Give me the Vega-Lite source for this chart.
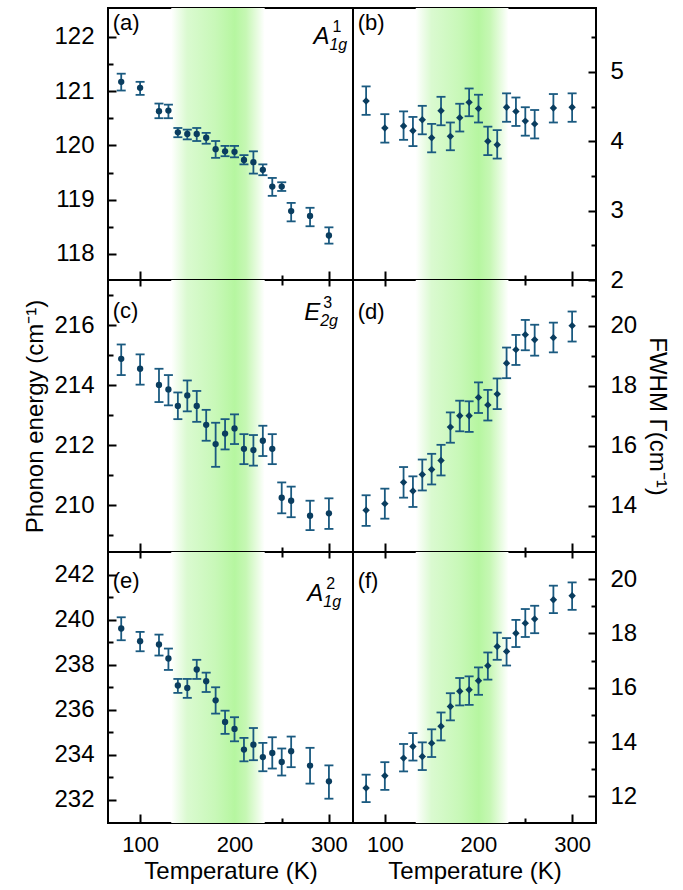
{
"$schema": "https://vega.github.io/schema/vega-lite/v6.json",
"padding": {"left": 22, "top": 7, "right": 10, "bottom": 5},
"background": "white",
"bounds": "flush",
"columns": 2,
"spacing": 0,
"config": {
 "view": {"stroke": "black", "strokeWidth": 2},
 "axis": {"domain": false, "grid": false, "tickColor": "black", "tickWidth": 2, "labelColor": "black", "labelFont": "Liberation Sans", "labelFontSize": 22, "titleFont": "Liberation Sans", "titleFontSize": 24, "titleFontWeight": "normal", "titleColor": "black", "labelOverlap": false, "labelFlush": false}
},
"datasets": {
 "band": [{"t0": 133, "t1": 232}],
 "a": [
  {"T":80,"v":121.17,"lo":121.01,"hi":121.32},{"T":100,"v":121.06,"lo":120.93,"hi":121.17},{"T":120,"v":120.63,"lo":120.50,"hi":120.77},{"T":130,"v":120.64,"lo":120.50,"hi":120.75},{"T":140,"v":120.24,"lo":120.15,"hi":120.32},{"T":150,"v":120.21,"lo":120.11,"hi":120.29},{"T":160,"v":120.21,"lo":120.08,"hi":120.32},{"T":170,"v":120.14,"lo":120.03,"hi":120.23},{"T":180,"v":119.93,"lo":119.77,"hi":120.08},{"T":190,"v":119.89,"lo":119.80,"hi":119.99},{"T":200,"v":119.88,"lo":119.78,"hi":119.99},{"T":210,"v":119.73,"lo":119.65,"hi":119.82},{"T":220,"v":119.69,"lo":119.48,"hi":119.89},{"T":230,"v":119.55,"lo":119.45,"hi":119.65},{"T":240,"v":119.24,"lo":119.07,"hi":119.40},{"T":250,"v":119.24,"lo":119.16,"hi":119.32},{"T":260,"v":118.79,"lo":118.60,"hi":118.94},{"T":280,"v":118.70,"lo":118.51,"hi":118.85},{"T":300,"v":118.34,"lo":118.19,"hi":118.49}],
 "b": [
  {"T":80,"v":4.58,"lo":4.38,"hi":4.79},{"T":100,"v":4.19,"lo":3.98,"hi":4.39},{"T":120,"v":4.22,"lo":4.02,"hi":4.43},{"T":130,"v":4.15,"lo":3.93,"hi":4.35},{"T":140,"v":4.31,"lo":4.10,"hi":4.51},{"T":150,"v":4.05,"lo":3.84,"hi":4.25},{"T":160,"v":4.44,"lo":4.23,"hi":4.64},{"T":170,"v":4.07,"lo":3.87,"hi":4.27},{"T":180,"v":4.34,"lo":4.14,"hi":4.54},{"T":190,"v":4.56,"lo":4.36,"hi":4.76},{"T":200,"v":4.47,"lo":4.27,"hi":4.67},{"T":210,"v":4.00,"lo":3.80,"hi":4.21},{"T":220,"v":3.95,"lo":3.75,"hi":4.16},{"T":230,"v":4.49,"lo":4.28,"hi":4.69},{"T":240,"v":4.43,"lo":4.22,"hi":4.63},{"T":250,"v":4.29,"lo":4.08,"hi":4.49},{"T":260,"v":4.25,"lo":4.04,"hi":4.45},{"T":280,"v":4.48,"lo":4.27,"hi":4.68},{"T":300,"v":4.49,"lo":4.28,"hi":4.69}],
 "c": [
  {"T":80,"v":214.88,"lo":214.34,"hi":215.36},{"T":100,"v":214.55,"lo":214.02,"hi":215.03},{"T":120,"v":214.01,"lo":213.44,"hi":214.55},{"T":130,"v":213.86,"lo":213.33,"hi":214.34},{"T":140,"v":213.31,"lo":212.87,"hi":213.76},{"T":150,"v":213.66,"lo":213.13,"hi":214.16},{"T":160,"v":213.31,"lo":212.78,"hi":213.81},{"T":170,"v":212.68,"lo":212.15,"hi":213.18},{"T":180,"v":212.04,"lo":211.28,"hi":212.75},{"T":190,"v":212.39,"lo":211.86,"hi":212.87},{"T":200,"v":212.56,"lo":212.04,"hi":213.03},{"T":210,"v":211.88,"lo":211.37,"hi":212.37},{"T":220,"v":211.84,"lo":211.32,"hi":212.34},{"T":230,"v":212.15,"lo":211.64,"hi":212.65},{"T":240,"v":211.88,"lo":211.37,"hi":212.37},{"T":250,"v":210.25,"lo":209.73,"hi":210.76},{"T":260,"v":210.15,"lo":209.60,"hi":210.62},{"T":280,"v":209.65,"lo":209.17,"hi":210.15},{"T":300,"v":209.73,"lo":209.21,"hi":210.23}],
 "d": [
  {"T":80,"v":13.85,"lo":13.33,"hi":14.35},{"T":100,"v":14.07,"lo":13.57,"hi":14.57},{"T":120,"v":14.78,"lo":14.27,"hi":15.29},{"T":130,"v":14.49,"lo":13.96,"hi":14.98},{"T":140,"v":15.04,"lo":14.51,"hi":15.54},{"T":150,"v":15.21,"lo":14.71,"hi":15.73},{"T":160,"v":15.51,"lo":15.01,"hi":16.03},{"T":170,"v":16.62,"lo":16.10,"hi":17.11},{"T":180,"v":17.00,"lo":16.48,"hi":17.50},{"T":190,"v":17.00,"lo":16.46,"hi":17.48},{"T":200,"v":17.61,"lo":17.09,"hi":18.11},{"T":210,"v":17.36,"lo":16.84,"hi":17.86},{"T":220,"v":17.72,"lo":17.22,"hi":18.24},{"T":230,"v":18.75,"lo":18.25,"hi":19.27},{"T":240,"v":19.20,"lo":18.69,"hi":19.69},{"T":250,"v":19.70,"lo":19.18,"hi":20.19},{"T":260,"v":19.53,"lo":19.00,"hi":20.03},{"T":280,"v":19.60,"lo":19.11,"hi":20.10},{"T":300,"v":20.00,"lo":19.47,"hi":20.47}],
 "e": [
  {"T":80,"v":239.60,"lo":239.08,"hi":240.10},{"T":100,"v":239.04,"lo":238.59,"hi":239.45},{"T":120,"v":238.89,"lo":238.40,"hi":239.33},{"T":130,"v":238.27,"lo":237.76,"hi":238.71},{"T":140,"v":237.07,"lo":236.74,"hi":237.36},{"T":150,"v":236.96,"lo":236.52,"hi":237.36},{"T":160,"v":237.78,"lo":237.36,"hi":238.21},{"T":170,"v":237.26,"lo":236.78,"hi":237.64},{"T":180,"v":236.41,"lo":235.82,"hi":236.99},{"T":190,"v":235.45,"lo":234.92,"hi":235.95},{"T":200,"v":235.14,"lo":234.59,"hi":235.66},{"T":210,"v":234.22,"lo":233.70,"hi":234.74},{"T":220,"v":234.44,"lo":233.75,"hi":235.18},{"T":230,"v":233.89,"lo":233.26,"hi":234.52},{"T":240,"v":234.07,"lo":233.38,"hi":234.77},{"T":250,"v":233.67,"lo":233.07,"hi":234.27},{"T":260,"v":234.15,"lo":233.44,"hi":234.80},{"T":280,"v":233.51,"lo":232.71,"hi":234.30},{"T":300,"v":232.81,"lo":232.04,"hi":233.52}],
 "f": [
  {"T":80,"v":12.31,"lo":11.79,"hi":12.80},{"T":100,"v":12.76,"lo":12.24,"hi":13.26},{"T":120,"v":13.41,"lo":12.92,"hi":13.93},{"T":130,"v":13.84,"lo":13.32,"hi":14.33},{"T":140,"v":13.47,"lo":12.97,"hi":13.99},{"T":150,"v":13.96,"lo":13.45,"hi":14.47},{"T":160,"v":14.58,"lo":14.06,"hi":15.09},{"T":170,"v":15.31,"lo":14.80,"hi":15.80},{"T":180,"v":15.87,"lo":15.35,"hi":16.36},{"T":190,"v":15.93,"lo":15.37,"hi":16.42},{"T":200,"v":16.26,"lo":15.74,"hi":16.75},{"T":210,"v":16.81,"lo":16.30,"hi":17.30},{"T":220,"v":17.52,"lo":17.03,"hi":18.03},{"T":230,"v":17.34,"lo":16.82,"hi":17.83},{"T":240,"v":18.01,"lo":17.50,"hi":18.50},{"T":250,"v":18.38,"lo":17.87,"hi":18.90},{"T":260,"v":18.53,"lo":18.01,"hi":19.02},{"T":280,"v":19.24,"lo":18.75,"hi":19.76},{"T":300,"v":19.39,"lo":18.87,"hi":19.88}]
},
"concat": [
 {
  "width": 245, "height": 272,
  "data": {"name": "a"},
  "resolve": {"axis": {"x": "independent", "y": "independent"}},
  "layer": [
   {"data": {"name": "band"}, "mark": {"type": "rect", "stroke": null, "fill": {"gradient": "linear", "x1": 0, "y1": 0, "x2": 1, "y2": 0, "stops": [{"offset": 0, "color": "#ffffff"}, {"offset": 0.17, "color": "#dafad0"}, {"offset": 0.47, "color": "#c8f8b8"}, {"offset": 0.68, "color": "#b6f6a0"}, {"offset": 0.8, "color": "#c6f7b4"}, {"offset": 1, "color": "#ffffff"}]}},
    "encoding": {"x": {"field": "t0", "type": "quantitative", "scale": {"domain": [66, 325.5], "nice": false, "zero": false}, "axis": null}, "x2": {"field": "t1"}}},
   {"mark": {"type": "rule", "color": "#1a5a80", "strokeWidth": 1.8},
    "encoding": {"x": {"field": "T", "type": "quantitative", "scale": {"domain": [66, 325.5], "nice": false, "zero": false}, "axis": {"orient": "bottom", "values": [100, 200, 300], "tickSize": -9, "labels": false, "title": null}},
     "y": {"field": "lo", "type": "quantitative", "scale": {"domain": [117.52, 122.53], "nice": false, "zero": false}, "axis": {"orient": "left", "values": [118, 119, 120, 121, 122], "tickSize": -8, "labelPadding": 22, "labelFontSize": 24, "title": null}}, "y2": {"field": "hi"}}},
   {"mark": {"type": "tick", "orient": "horizontal", "size": 9, "thickness": 1.8, "color": "#1a5a80", "opacity": 1},
    "encoding": {"x": {"field": "T", "type": "quantitative", "axis": {"orient": "bottom", "values": [150, 250], "tickSize": -5, "labels": false, "title": null}},
     "y": {"field": "lo", "type": "quantitative", "axis": {"orient": "left", "values": [118.5, 119.5, 120.5, 121.5], "tickSize": -5, "labels": false, "title": null}}}},
   {"mark": {"type": "tick", "orient": "horizontal", "size": 9, "thickness": 1.8, "color": "#1a5a80", "opacity": 1},
    "encoding": {"x": {"field": "T", "type": "quantitative", "axis": null}, "y": {"field": "hi", "type": "quantitative", "axis": null}}},
   {"mark": {"type": "point", "shape": "circle", "filled": true, "size": 40, "color": "#0a3d5f", "opacity": 1},
    "encoding": {"x": {"field": "T", "type": "quantitative", "axis": null}, "y": {"field": "v", "type": "quantitative", "axis": null}}},
   {"data": {"values": [{"T": 71, "v": 122.25, "s": "(a)"}]}, "mark": {"type": "text", "align": "left", "baseline": "middle", "font": "Liberation Sans", "fontSize": 22, "color": "black"},
    "encoding": {"x": {"field": "T", "type": "quantitative", "axis": null}, "y": {"field": "v", "type": "quantitative", "axis": null}, "text": {"field": "s"}}},
   {"data": {"values": [{"T": 300.5, "v": 121.87, "s": "A"}]}, "mark": {"type": "text", "align": "right", "baseline": "alphabetic", "font": "Liberation Sans", "fontSize": 24, "fontStyle": "italic", "color": "black"},
    "encoding": {"x": {"field": "T", "type": "quantitative", "axis": null}, "y": {"field": "v", "type": "quantitative", "axis": null}, "text": {"field": "s"}}},
   {"data": {"values": [{"T": 300.5, "v": 121.87, "s": "1"}]}, "mark": {"type": "text", "align": "left", "baseline": "alphabetic", "dx": 3, "dy": -12, "font": "Liberation Sans", "fontSize": 16, "color": "black"},
    "encoding": {"x": {"field": "T", "type": "quantitative", "axis": null}, "y": {"field": "v", "type": "quantitative", "axis": null}, "text": {"field": "s"}}},
   {"data": {"values": [{"T": 300.5, "v": 121.87, "s": "1g"}]}, "mark": {"type": "text", "align": "left", "baseline": "alphabetic", "dx": 0, "dy": 6, "font": "Liberation Sans", "fontSize": 16, "fontStyle": "italic", "color": "black"},
    "encoding": {"x": {"field": "T", "type": "quantitative", "axis": null}, "y": {"field": "v", "type": "quantitative", "axis": null}, "text": {"field": "s"}}}
  ]
 },
 {
  "width": 243, "height": 272,
  "data": {"name": "b"},
  "resolve": {"axis": {"x": "independent", "y": "independent"}},
  "layer": [
   {"data": {"name": "band"}, "mark": {"type": "rect", "stroke": null, "fill": {"gradient": "linear", "x1": 0, "y1": 0, "x2": 1, "y2": 0, "stops": [{"offset": 0, "color": "#ffffff"}, {"offset": 0.17, "color": "#dafad0"}, {"offset": 0.47, "color": "#c8f8b8"}, {"offset": 0.68, "color": "#b6f6a0"}, {"offset": 0.8, "color": "#c6f7b4"}, {"offset": 1, "color": "#ffffff"}]}},
    "encoding": {"x": {"field": "t0", "type": "quantitative", "scale": {"domain": [66, 325.5], "nice": false, "zero": false}, "axis": null}, "x2": {"field": "t1"}}},
   {"mark": {"type": "rule", "color": "#1a5a80", "strokeWidth": 1.8},
    "encoding": {"x": {"field": "T", "type": "quantitative", "scale": {"domain": [66, 325.5], "nice": false, "zero": false}, "axis": {"orient": "bottom", "values": [100, 200, 300], "tickSize": -9, "labels": false, "title": null}},
     "y": {"field": "lo", "type": "quantitative", "scale": {"domain": [2.0, 5.92], "nice": false, "zero": false}, "axis": {"orient": "right", "values": [2, 3, 4, 5], "tickSize": -8, "labelPadding": 22, "labelFontSize": 24, "title": null}}, "y2": {"field": "hi"}}},
   {"mark": {"type": "tick", "orient": "horizontal", "size": 9, "thickness": 1.8, "color": "#1a5a80", "opacity": 1},
    "encoding": {"x": {"field": "T", "type": "quantitative", "axis": {"orient": "bottom", "values": [150, 250], "tickSize": -5, "labels": false, "title": null}},
     "y": {"field": "lo", "type": "quantitative", "axis": {"orient": "right", "values": [2.5, 3.5, 4.5, 5.5], "tickSize": -5, "labels": false, "title": null}}}},
   {"mark": {"type": "tick", "orient": "horizontal", "size": 9, "thickness": 1.8, "color": "#1a5a80", "opacity": 1},
    "encoding": {"x": {"field": "T", "type": "quantitative", "axis": null}, "y": {"field": "hi", "type": "quantitative", "axis": null}}},
   {"mark": {"type": "point", "shape": "diamond", "filled": true, "size": 55, "color": "#0a3d5f", "opacity": 1},
    "encoding": {"x": {"field": "T", "type": "quantitative", "axis": null}, "y": {"field": "v", "type": "quantitative", "axis": null}}},
   {"data": {"values": [{"T": 71, "v": 5.70, "s": "(b)"}]}, "mark": {"type": "text", "align": "left", "baseline": "middle", "font": "Liberation Sans", "fontSize": 22, "color": "black"},
    "encoding": {"x": {"field": "T", "type": "quantitative", "axis": null}, "y": {"field": "v", "type": "quantitative", "axis": null}, "text": {"field": "s"}}}
  ]
 },
 {
  "width": 245, "height": 272,
  "data": {"name": "c"},
  "resolve": {"axis": {"x": "independent", "y": "independent"}},
  "layer": [
   {"data": {"name": "band"}, "mark": {"type": "rect", "stroke": null, "fill": {"gradient": "linear", "x1": 0, "y1": 0, "x2": 1, "y2": 0, "stops": [{"offset": 0, "color": "#ffffff"}, {"offset": 0.17, "color": "#dafad0"}, {"offset": 0.47, "color": "#c8f8b8"}, {"offset": 0.68, "color": "#b6f6a0"}, {"offset": 0.8, "color": "#c6f7b4"}, {"offset": 1, "color": "#ffffff"}]}},
    "encoding": {"x": {"field": "t0", "type": "quantitative", "scale": {"domain": [66, 325.5], "nice": false, "zero": false}, "axis": null}, "x2": {"field": "t1"}}},
   {"mark": {"type": "rule", "color": "#1a5a80", "strokeWidth": 1.8},
    "encoding": {"x": {"field": "T", "type": "quantitative", "scale": {"domain": [66, 325.5], "nice": false, "zero": false}, "axis": {"orient": "bottom", "values": [100, 200, 300], "tickSize": -9, "labels": false, "title": null}},
     "y": {"field": "lo", "type": "quantitative", "scale": {"domain": [208.44, 217.51], "nice": false, "zero": false}, "axis": {"orient": "left", "values": [210, 212, 214, 216], "tickSize": -8, "labelPadding": 22, "labelFontSize": 24, "title": "Phonon energy (cm⁻¹)", "titleFont": "Liberation Sans Narrow, Liberation Sans", "titleFontSize": 24, "titlePadding": 6}}, "y2": {"field": "hi"}}},
   {"mark": {"type": "tick", "orient": "horizontal", "size": 9, "thickness": 1.8, "color": "#1a5a80", "opacity": 1},
    "encoding": {"x": {"field": "T", "type": "quantitative", "axis": {"orient": "bottom", "values": [150, 250], "tickSize": -5, "labels": false, "title": null}},
     "y": {"field": "lo", "type": "quantitative", "axis": {"orient": "left", "values": [209, 211, 213, 215, 217], "tickSize": -5, "labels": false, "title": null}}}},
   {"mark": {"type": "tick", "orient": "horizontal", "size": 9, "thickness": 1.8, "color": "#1a5a80", "opacity": 1},
    "encoding": {"x": {"field": "T", "type": "quantitative", "axis": {"orient": "top", "values": [100, 200, 300], "tickSize": -6, "labels": false, "title": null}}, "y": {"field": "hi", "type": "quantitative", "axis": null}}},
   {"mark": {"type": "point", "shape": "circle", "filled": true, "size": 40, "color": "#0a3d5f", "opacity": 1},
    "encoding": {"x": {"field": "T", "type": "quantitative", "axis": {"orient": "top", "values": [150, 250], "tickSize": -5, "labels": false, "title": null}}, "y": {"field": "v", "type": "quantitative", "axis": null}}},
   {"data": {"values": [{"T": 71, "v": 216.49, "s": "(c)"}]}, "mark": {"type": "text", "align": "left", "baseline": "middle", "font": "Liberation Sans", "fontSize": 22, "color": "black"},
    "encoding": {"x": {"field": "T", "type": "quantitative", "axis": null}, "y": {"field": "v", "type": "quantitative", "axis": null}, "text": {"field": "s"}}},
   {"data": {"values": [{"T": 290.7, "v": 216.16, "s": "E"}]}, "mark": {"type": "text", "align": "right", "baseline": "alphabetic", "font": "Liberation Sans", "fontSize": 24, "fontStyle": "italic", "color": "black"},
    "encoding": {"x": {"field": "T", "type": "quantitative", "axis": null}, "y": {"field": "v", "type": "quantitative", "axis": null}, "text": {"field": "s"}}},
   {"data": {"values": [{"T": 290.7, "v": 216.16, "s": "3"}]}, "mark": {"type": "text", "align": "left", "baseline": "alphabetic", "dx": 3, "dy": -12, "font": "Liberation Sans", "fontSize": 16, "color": "black"},
    "encoding": {"x": {"field": "T", "type": "quantitative", "axis": null}, "y": {"field": "v", "type": "quantitative", "axis": null}, "text": {"field": "s"}}},
   {"data": {"values": [{"T": 290.7, "v": 216.16, "s": "2g"}]}, "mark": {"type": "text", "align": "left", "baseline": "alphabetic", "dx": 0, "dy": 6, "font": "Liberation Sans", "fontSize": 16, "fontStyle": "italic", "color": "black"},
    "encoding": {"x": {"field": "T", "type": "quantitative", "axis": null}, "y": {"field": "v", "type": "quantitative", "axis": null}, "text": {"field": "s"}}}
  ]
 },
 {
  "width": 243, "height": 272,
  "data": {"name": "d"},
  "resolve": {"axis": {"x": "independent", "y": "independent"}},
  "layer": [
   {"data": {"name": "band"}, "mark": {"type": "rect", "stroke": null, "fill": {"gradient": "linear", "x1": 0, "y1": 0, "x2": 1, "y2": 0, "stops": [{"offset": 0, "color": "#ffffff"}, {"offset": 0.17, "color": "#dafad0"}, {"offset": 0.47, "color": "#c8f8b8"}, {"offset": 0.68, "color": "#b6f6a0"}, {"offset": 0.8, "color": "#c6f7b4"}, {"offset": 1, "color": "#ffffff"}]}},
    "encoding": {"x": {"field": "t0", "type": "quantitative", "scale": {"domain": [66, 325.5], "nice": false, "zero": false}, "axis": null}, "x2": {"field": "t1"}}},
   {"mark": {"type": "rule", "color": "#1a5a80", "strokeWidth": 1.8},
    "encoding": {"x": {"field": "T", "type": "quantitative", "scale": {"domain": [66, 325.5], "nice": false, "zero": false}, "axis": {"orient": "bottom", "values": [100, 200, 300], "tickSize": -9, "labels": false, "title": null}},
     "y": {"field": "lo", "type": "quantitative", "scale": {"domain": [12.46, 21.52], "nice": false, "zero": false}, "axis": {"orient": "right", "values": [14, 16, 18, 20], "tickSize": -8, "labelPadding": 22, "labelFontSize": 24, "title": "FWHM Γ(cm⁻¹)", "titleFont": "Liberation Sans Narrow, Liberation Sans", "titleFontSize": 24, "titlePadding": 8}}, "y2": {"field": "hi"}}},
   {"mark": {"type": "tick", "orient": "horizontal", "size": 9, "thickness": 1.8, "color": "#1a5a80", "opacity": 1},
    "encoding": {"x": {"field": "T", "type": "quantitative", "axis": {"orient": "bottom", "values": [150, 250], "tickSize": -5, "labels": false, "title": null}},
     "y": {"field": "lo", "type": "quantitative", "axis": {"orient": "right", "values": [13, 15, 17, 19, 21], "tickSize": -5, "labels": false, "title": null}}}},
   {"mark": {"type": "tick", "orient": "horizontal", "size": 9, "thickness": 1.8, "color": "#1a5a80", "opacity": 1},
    "encoding": {"x": {"field": "T", "type": "quantitative", "axis": {"orient": "top", "values": [100, 200, 300], "tickSize": -6, "labels": false, "title": null}}, "y": {"field": "hi", "type": "quantitative", "axis": null}}},
   {"mark": {"type": "point", "shape": "diamond", "filled": true, "size": 55, "color": "#0a3d5f", "opacity": 1},
    "encoding": {"x": {"field": "T", "type": "quantitative", "axis": {"orient": "top", "values": [150, 250], "tickSize": -5, "labels": false, "title": null}}, "y": {"field": "v", "type": "quantitative", "axis": null}}},
   {"data": {"values": [{"T": 71, "v": 20.44, "s": "(d)"}]}, "mark": {"type": "text", "align": "left", "baseline": "middle", "font": "Liberation Sans", "fontSize": 22, "color": "black"},
    "encoding": {"x": {"field": "T", "type": "quantitative", "axis": null}, "y": {"field": "v", "type": "quantitative", "axis": null}, "text": {"field": "s"}}}
  ]
 },
 {
  "width": 245, "height": 271,
  "data": {"name": "e"},
  "resolve": {"axis": {"x": "independent", "y": "independent"}},
  "layer": [
   {"data": {"name": "band"}, "mark": {"type": "rect", "stroke": null, "fill": {"gradient": "linear", "x1": 0, "y1": 0, "x2": 1, "y2": 0, "stops": [{"offset": 0, "color": "#ffffff"}, {"offset": 0.17, "color": "#dafad0"}, {"offset": 0.47, "color": "#c8f8b8"}, {"offset": 0.68, "color": "#b6f6a0"}, {"offset": 0.8, "color": "#c6f7b4"}, {"offset": 1, "color": "#ffffff"}]}},
    "encoding": {"x": {"field": "t0", "type": "quantitative", "scale": {"domain": [66, 325.5], "nice": false, "zero": false}, "axis": null}, "x2": {"field": "t1"}}},
   {"mark": {"type": "rule", "color": "#1a5a80", "strokeWidth": 1.8},
    "encoding": {"x": {"field": "T", "type": "quantitative", "scale": {"domain": [66, 325.5], "nice": false, "zero": false}, "axis": {"orient": "bottom", "values": [100, 200, 300], "tickSize": -9, "labelPadding": 20, "labelFontSize": 22, "title": "Temperature (K)", "titlePadding": 4}},
     "y": {"field": "lo", "type": "quantitative", "scale": {"domain": [230.96, 243.0], "nice": false, "zero": false}, "axis": {"orient": "left", "values": [232, 234, 236, 238, 240, 242], "tickSize": -8, "labelPadding": 22, "labelFontSize": 24, "title": null}}, "y2": {"field": "hi"}}},
   {"mark": {"type": "tick", "orient": "horizontal", "size": 9, "thickness": 1.8, "color": "#1a5a80", "opacity": 1},
    "encoding": {"x": {"field": "T", "type": "quantitative", "axis": {"orient": "bottom", "values": [150, 250], "tickSize": -5, "labels": false, "title": null}},
     "y": {"field": "lo", "type": "quantitative", "axis": {"orient": "left", "values": [233, 235, 237, 239, 241], "tickSize": -5, "labels": false, "title": null}}}},
   {"mark": {"type": "tick", "orient": "horizontal", "size": 9, "thickness": 1.8, "color": "#1a5a80", "opacity": 1},
    "encoding": {"x": {"field": "T", "type": "quantitative", "axis": {"orient": "top", "values": [100, 200, 300], "tickSize": -6, "labels": false, "title": null}}, "y": {"field": "hi", "type": "quantitative", "axis": null}}},
   {"mark": {"type": "point", "shape": "circle", "filled": true, "size": 40, "color": "#0a3d5f", "opacity": 1},
    "encoding": {"x": {"field": "T", "type": "quantitative", "axis": {"orient": "top", "values": [150, 250], "tickSize": -5, "labels": false, "title": null}}, "y": {"field": "v", "type": "quantitative", "axis": null}}},
   {"data": {"values": [{"T": 71, "v": 241.73, "s": "(e)"}]}, "mark": {"type": "text", "align": "left", "baseline": "middle", "font": "Liberation Sans", "fontSize": 22, "color": "black"},
    "encoding": {"x": {"field": "T", "type": "quantitative", "axis": null}, "y": {"field": "v", "type": "quantitative", "axis": null}, "text": {"field": "s"}}},
   {"data": {"values": [{"T": 294, "v": 240.81, "s": "A"}]}, "mark": {"type": "text", "align": "right", "baseline": "alphabetic", "font": "Liberation Sans", "fontSize": 24, "fontStyle": "italic", "color": "black"},
    "encoding": {"x": {"field": "T", "type": "quantitative", "axis": null}, "y": {"field": "v", "type": "quantitative", "axis": null}, "text": {"field": "s"}}},
   {"data": {"values": [{"T": 294, "v": 240.81, "s": "2"}]}, "mark": {"type": "text", "align": "left", "baseline": "alphabetic", "dx": 3, "dy": -12, "font": "Liberation Sans", "fontSize": 16, "color": "black"},
    "encoding": {"x": {"field": "T", "type": "quantitative", "axis": null}, "y": {"field": "v", "type": "quantitative", "axis": null}, "text": {"field": "s"}}},
   {"data": {"values": [{"T": 294, "v": 240.81, "s": "1g"}]}, "mark": {"type": "text", "align": "left", "baseline": "alphabetic", "dx": 0, "dy": 6, "font": "Liberation Sans", "fontSize": 16, "fontStyle": "italic", "color": "black"},
    "encoding": {"x": {"field": "T", "type": "quantitative", "axis": null}, "y": {"field": "v", "type": "quantitative", "axis": null}, "text": {"field": "s"}}}
  ]
 },
 {
  "width": 243, "height": 271,
  "data": {"name": "f"},
  "resolve": {"axis": {"x": "independent", "y": "independent"}},
  "layer": [
   {"data": {"name": "band"}, "mark": {"type": "rect", "stroke": null, "fill": {"gradient": "linear", "x1": 0, "y1": 0, "x2": 1, "y2": 0, "stops": [{"offset": 0, "color": "#ffffff"}, {"offset": 0.17, "color": "#dafad0"}, {"offset": 0.47, "color": "#c8f8b8"}, {"offset": 0.68, "color": "#b6f6a0"}, {"offset": 0.8, "color": "#c6f7b4"}, {"offset": 1, "color": "#ffffff"}]}},
    "encoding": {"x": {"field": "t0", "type": "quantitative", "scale": {"domain": [66, 325.5], "nice": false, "zero": false}, "axis": null}, "x2": {"field": "t1"}}},
   {"mark": {"type": "rule", "color": "#1a5a80", "strokeWidth": 1.8},
    "encoding": {"x": {"field": "T", "type": "quantitative", "scale": {"domain": [66, 325.5], "nice": false, "zero": false}, "axis": {"orient": "bottom", "values": [100, 200, 300], "tickSize": -9, "labelPadding": 20, "labelFontSize": 22, "title": "Temperature (K)", "titlePadding": 4}},
     "y": {"field": "lo", "type": "quantitative", "scale": {"domain": [11.02, 21.0], "nice": false, "zero": false}, "axis": {"orient": "right", "values": [12, 14, 16, 18, 20], "tickSize": -8, "labelPadding": 22, "labelFontSize": 24, "title": null}}, "y2": {"field": "hi"}}},
   {"mark": {"type": "tick", "orient": "horizontal", "size": 9, "thickness": 1.8, "color": "#1a5a80", "opacity": 1},
    "encoding": {"x": {"field": "T", "type": "quantitative", "axis": {"orient": "bottom", "values": [150, 250], "tickSize": -5, "labels": false, "title": null}},
     "y": {"field": "lo", "type": "quantitative", "axis": {"orient": "right", "values": [13, 15, 17, 19], "tickSize": -5, "labels": false, "title": null}}}},
   {"mark": {"type": "tick", "orient": "horizontal", "size": 9, "thickness": 1.8, "color": "#1a5a80", "opacity": 1},
    "encoding": {"x": {"field": "T", "type": "quantitative", "axis": {"orient": "top", "values": [100, 200, 300], "tickSize": -6, "labels": false, "title": null}}, "y": {"field": "hi", "type": "quantitative", "axis": null}}},
   {"mark": {"type": "point", "shape": "diamond", "filled": true, "size": 55, "color": "#0a3d5f", "opacity": 1},
    "encoding": {"x": {"field": "T", "type": "quantitative", "axis": {"orient": "top", "values": [150, 250], "tickSize": -5, "labels": false, "title": null}}, "y": {"field": "v", "type": "quantitative", "axis": null}}},
   {"data": {"values": [{"T": 71, "v": 19.94, "s": "(f)"}]}, "mark": {"type": "text", "align": "left", "baseline": "middle", "font": "Liberation Sans", "fontSize": 22, "color": "black"},
    "encoding": {"x": {"field": "T", "type": "quantitative", "axis": null}, "y": {"field": "v", "type": "quantitative", "axis": null}, "text": {"field": "s"}}}
  ]
 }
]
}
